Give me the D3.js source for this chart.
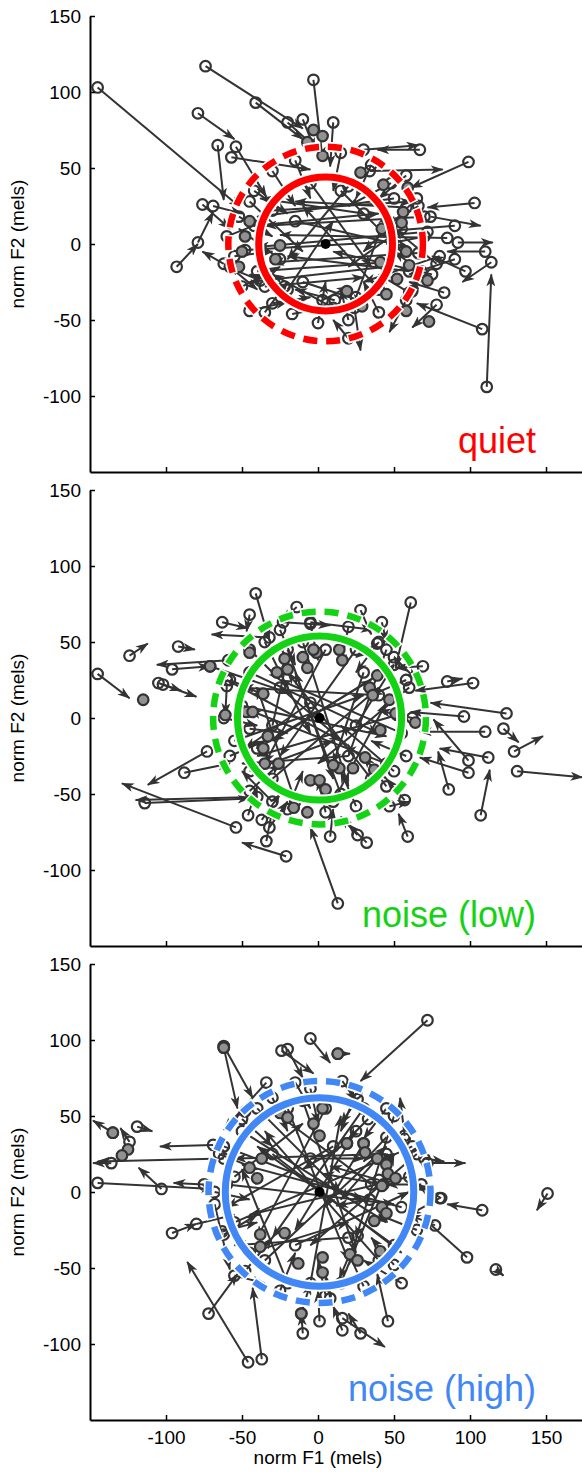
<!DOCTYPE html>
<html>
<head>
<meta charset="utf-8">
<script src="https://cdnjs.cloudflare.com/ajax/libs/d3/7.8.5/d3.min.js"></script>
<style>
  body { margin: 0; background: #fff; }
  svg { display: block; font-family: "Liberation Sans", Arial, sans-serif; }
</style>
</head>
<body>
<div id="app"></div>
<script>
// formant trajectories in mels: [startF1, startF2, endF1, endF2]
const quietArrows = [
  [-145,103,-51,24],[-74,117,-10,76],[-41,93,-10,69],[-79,86,-55,69],[-3,108,3,56],
  [-66,65,-62,29],[-54,64,-34,31],[-57,57,-5,49],[10,80,8,51],[-20,80,0,62],
  [-10,82,-2,62],[30,62,66,65],[67,62,39,62],[99,54,61,37],[34,48,82,49],
  [103,27,72,24],[74,18,107,12],[92,1,115,1],[111,-94,114,-20],[108,-56,65,-39],
  [58,-37,47,-58],[24,-42,28,-70],[20,-62,10,-50],[-93,-15,-79,0],[-62,-13,-76,-5],
  [-79,1,-69,21],[-76,26,-58,10],[-69,25,-50,20],[110,-5,85,-5],[114,-12,95,-25],
  [97,-18,75,-8],[90,-10,60,-20],[78,-13,50,10],[83,-32,60,-25],[78,-40,62,-55],
  [-45,-44,-20,-38],[-30,-39,-5,-35],[-17,-46,5,-42],[-22,-28,-45,-20],[3,-37,20,-28],
  [11,-37,-15,-30],[-38,-24,-60,-15],
  [70,18,-35,12],[72,8,-40,-2],[85,4,-25,6],[66,-6,-30,-12],[60,-18,-20,-8],
  [58,24,-15,28],[50,30,-40,18],[-42,12,40,20],[-48,-4,55,2],[-40,-18,45,-12],
  [-30,22,62,28],[-35,-28,30,-22],[20,38,-20,-10],[-5,40,35,-15],[40,-30,-10,25],
  [25,-35,45,20],[-20,-30,10,15],[55,10,20,-15],[80,-8,30,-25],[65,30,30,-5],
  [-45,28,-10,-5],[45,-15,-45,-25],[30,20,-38,30],[90,12,40,8],[-25,-10,-52,10],
  [10,-42,-30,-20],[15,35,55,-5],[-15,15,60,-2],[75,-20,10,-5],[-10,-25,30,-38],
  [48,40,20,25],[35,52,25,30],[15,60,10,35],[-15,55,-5,30],[-30,48,-15,25],
  [-42,35,-20,20],[-52,18,-30,5],[-55,-8,-30,-5],[-50,-28,-25,-15],[-35,-45,-20,-25],
  [0,-52,5,-25],[20,-50,15,-30],[40,-45,30,-25],[60,-32,40,-20],[68,-18,50,-5],
  [70,5,45,0],[66,25,45,12],[58,45,40,30],[-60,5,-35,15],[-58,-15,-40,-30]
];
const quietGrey = [
  [-3,75],[3,71],[3,58],[-7,67],[28,47],[43,39],[59,37],[56,21],[42,10],[55,14],
  [58,-5],[41,-12],[60,-14],[52,-23],[62,-31],[45,-33],[72,-24],[58,-44],[19,-31],[29,-41],
  [-28,-10],[-25,-1],[73,-51],[-50,-5],[-48,5],[-52,-15],[-45,15]
];
const quietMean = [5, 0];
const quietSd = [44, 64];   // solid ring, dashed ring radius

const lowArrows = [
  [-41,82,-32,51],[-45,68,-47,57],[-63,63,-46,59],[-14,73,-24,64],[-23,63,8,61],
  [-32,53,-70,55],[-92,47,-81,45],[-124,41,-112,49],[-59,38,-106,35],[-96,32,-71,34],
  [-71,34,-18,16],[-145,29,-124,13],[-105,23,-80,14],[-102,22,-90,18],[-60,21,-61,2],
  [61,76,51,33],[28,71,35,55],[-5,63,36,58],[42,63,45,50],[39,49,25,40],
  [69,34,51,33],[85,24,95,26],[102,23,64,18],[124,3,74,10],[96,1,61,4],
  [110,-9,67,-9],[122,-7,132,-16],[129,-22,148,-12],[131,-35,174,-39],[99,-28,76,-1],
  [99,-36,67,-26],[86,-47,79,-22],[107,-64,113,-34],[59,-78,53,-63],[57,-54,45,-40],
  [47,-58,60,-55],[32,-82,20,-70],[26,-77,15,-65],[8,-78,10,-60],[13,-122,-5,-72],
  [-73,-22,-112,-44],[-88,-36,-58,-30],[-114,-56,-45,-53],[-40,-52,-120,-54],[-54,-72,-129,-43],
  [-21,-91,-50,-82],[-34,-81,-30,-60],[-46,-64,-40,-45],[-37,-67,-25,-50],[-32,-72,-20,-55],
  [-45,-7,-20,-10],[112,-26,80,-20],
  [-45,30,40,-10],[-40,-20,35,25],[50,35,-30,-15],[45,-30,-45,5],[-20,45,10,-40],
  [25,45,-25,-25],[-50,8,45,-12],[52,2,-40,-25],[5,45,-35,-30],[-30,-40,40,20],
  [35,-40,-20,30],[55,-10,-25,25],[-55,-15,30,15],[15,-50,-15,30],[-10,50,20,-45],
  [40,15,-50,20],[-45,-35,10,-15],[30,30,10,-30],[-25,20,45,-40],[60,20,0,-30],
  [-60,25,15,-15],[20,-25,-50,-30],[10,-55,45,10],[-35,50,-5,-10],[45,45,20,-25],
  [-15,-55,-40,20],[-5,10,-48,-20],[25,-5,50,35],[-30,-5,-20,40],[50,-35,15,-5],
  [40,50,25,30],[20,60,15,35],[-5,62,0,38],[-25,58,-15,35],[-45,45,-25,25],
  [-58,25,-35,15],[-62,0,-40,-5],[-58,-25,-35,-15],[-45,-48,-25,-30],[-20,-60,-10,-35],
  [5,-62,0,-40],[25,-58,15,-35],[45,-45,30,-25],[58,-25,35,-15],[62,0,40,5],
  [58,25,35,15],[-30,-55,-50,-35],[50,40,65,25]
];
const lowGrey = [
  [-22,39],[-10,40],[-1,43],[-20,32],[-7,33],[-27,30],[-36,16],[-47,4],[-43,4],[-61,2],
  [-115,12],[-71,34],[-45,43],[-33,-12],[-36,-20],[-35,-30],[-26,-30],[-5,-41],[1,-41],[5,-47],
  [-16,-59],[-7,-62],[-3,45],[14,45],[16,38],[39,28],[34,20],[36,15],[47,12],[51,3],
  [64,-3],[41,-8],[31,-26],[23,-33],[14,-33],[10,-31],[37,-34]
];
const lowMean = [1, 0];
const lowSd = [54, 70];

const highArrows = [
  [-62,95,-53,55],[-62,96,-43,62],[-24,93,-3,78],[-20,94,-10,75],[-5,101,8,85],
  [-34,72,-62,41],[-15,72,-5,55],[-119,43,-109,40],[-135,39,-148,47],[-124,33,-130,42],
  [-136,19,-148,19],[-103,2,-118,16],[-62,22,-145,20],[-69,31,-104,30],[-145,6,-69,2],
  [-75,5,-95,6],[72,113,28,73],[13,91,21,91],[16,73,25,60],[26,61,15,45],
  [33,48,20,35],[57,37,54,62],[45,36,30,20],[57,35,62,15],[72,19,97,19],
  [70,22,83,20],[151,-1,144,-12],[19,32,-10,15],[30,32,5,-10],[39,22,15,-5],
  [43,5,3,12],[40,8,8,17],[-5,22,30,22],[34,-5,12,-9],[80,-4,60,-15],
  [108,-12,85,-8],[81,-4,65,5],[77,-22,60,-15],[98,-43,69,-17],[117,-51,122,-55],
  [46,-85,39,-54],[28,-93,20,-80],[16,-91,10,-75],[16,-83,44,-102],[1,-85,0,-65],
  [8,-70,5,-55],[26,-29,14,-57],[-96,-27,-80,-21],[-80,-21,-55,-15],[-72,-80,-53,-54],
  [-46,-112,-86,-46],[-37,-110,-43,-63],[-68,-8,-58,-51],[-10,-93,-11,-80],[-11,-80,-5,-60],
  [-63,-26,-40,-20],
  [-50,40,45,-20],[-55,-20,50,25],[60,10,-45,-15],[50,-35,-40,30],[-20,55,20,-45],
  [30,55,-30,-30],[-60,5,50,-8],[55,-10,-50,18],[5,55,-40,-30],[-35,-45,45,30],
  [40,-45,-35,40],[-5,-60,15,50],[-10,60,25,-40],[45,25,-55,22],[-45,-40,20,-20],
  [25,40,-15,-25],[-30,25,55,-40],[65,25,-5,-35],[-62,30,30,-5],[20,-30,-55,-35],
  [15,-60,50,25],[-40,55,15,0],[50,50,25,-30],[-20,-60,-50,15],[-55,10,-10,45],
  [35,5,-25,50],[-15,-35,60,0],[10,30,-60,-10],
  [45,55,30,35],[25,65,15,40],[-5,68,0,45],[-30,62,-20,40],[-50,48,-30,30],
  [-65,25,-40,15],[-68,0,-45,-5],[-62,-28,-40,-15],[-48,-52,-30,-30],[-25,-65,-15,-40],
  [5,-68,0,-45],[30,-62,20,-40],[50,-48,35,-30],[65,-25,40,-15],[68,5,45,5],
  [62,30,40,20],[55,-60,30,-45],[-55,-55,-35,-60]
];
const highGrey = [
  [-62,95],[-135,39],[-125,28],[-129,24],[13,91],[-11,-80],[-38,-28],[-22,-27],[-38,-36],[-13,-47],
  [42,-10],[45,-14],[37,-19],[41,-39],[21,-41],[26,-45],[3,-43],[3,-53],[19,32],[30,32],
  [31,26],[39,22],[45,18],[46,12],[51,9],[42,4],[-25,52],[-20,49],[-3,45],[3,55],
  [1,37],[-48,53],[-37,22],[-45,16],[-40,9]
];
const highMean = [1, 0];
const highSd = [62, 73];

const conditions = ["quiet", "noise (low)", "noise (high)"];
const condColors = ["#ff0000", "#14d214", "#4187f5"];
const xTicks = [-100, -50, 0, 50, 100, 150];
const yTicks = [-100, -50, 0, 50, 100, 150];

const panels = [
  { arrows: quietArrows, grey: quietGrey, mean: quietMean, sd: quietSd },
  { arrows: lowArrows,   grey: lowGrey,   mean: lowMean,   sd: lowSd },
  { arrows: highArrows,  grey: highGrey,  mean: highMean,  sd: highSd }
];

const W = 582, H = 1472;
const panelTop = [16, 490, 964];
const panelH = 456;
const ink = "#333333";

const svg = d3.select("#app").append("svg")
  .attr("width", W).attr("height", H);

svg.append("defs").append("marker")
  .attr("id", "head")
  .attr("viewBox", "0 0 13 9")
  .attr("refX", 12).attr("refY", 4.5)
  .attr("markerWidth", 13).attr("markerHeight", 9)
  .attr("markerUnits", "userSpaceOnUse")
  .attr("orient", "auto")
  .append("path")
    .attr("d", "M0,0 L13,4.5 L0,9 L3.5,4.5 Z")
    .attr("fill", ink);

const x = d3.scaleLinear().domain([-150, 174]).range([90, 582.5]);

panels.forEach((p, i) => {
  const y = d3.scaleLinear().domain([-150, 150]).range([panelTop[i] + panelH, panelTop[i]]);
  const g = svg.append("g");
  const col = condColors[i];

  // trajectories
  g.append("g").selectAll("line")
    .data(p.arrows).enter()
    .append("line")
      .attr("x1", d => x(d[0])).attr("y1", d => y(d[1]))
      .attr("x2", d => x(d[2])).attr("y2", d => y(d[3]))
      .attr("stroke", ink).attr("stroke-width", 2)
      .attr("marker-end", "url(#head)");

  // onset points
  g.append("g").selectAll("circle")
    .data(p.arrows).enter()
    .append("circle")
      .attr("cx", d => x(d[0])).attr("cy", d => y(d[1]))
      .attr("r", 5.3)
      .attr("fill", "none").attr("stroke", ink).attr("stroke-width", 2.2);

  g.append("g").selectAll("circle")
    .data(p.grey).enter()
    .append("circle")
      .attr("cx", d => x(d[0])).attr("cy", d => y(d[1]))
      .attr("r", 5.3)
      .attr("fill", "#919191").attr("stroke", ink).attr("stroke-width", 2.2);

  // rings: solid = inner, dashed = outer
  const cx = x(p.mean[0]), cy = y(p.mean[1]);
  const rIn = x(p.sd[0]) - x(0), rOut = x(p.sd[1]) - x(0);

  g.append("circle").attr("cx", cx).attr("cy", cy).attr("r", rOut)
    .attr("fill", "none").attr("stroke", "#fff").attr("stroke-width", 10)
    .attr("stroke-dasharray", "17 6").attr("stroke-dashoffset", 1.5);
  g.append("circle").attr("cx", cx).attr("cy", cy).attr("r", rOut)
    .attr("fill", "none").attr("stroke", col).attr("stroke-width", 6.5)
    .attr("stroke-dasharray", "14 9");

  g.append("circle").attr("cx", cx).attr("cy", cy).attr("r", rIn)
    .attr("fill", "none").attr("stroke", "#fff").attr("stroke-width", 11);
  g.append("circle").attr("cx", cx).attr("cy", cy).attr("r", rIn)
    .attr("fill", "none").attr("stroke", col).attr("stroke-width", 7);

  g.append("circle").attr("cx", cx).attr("cy", cy).attr("r", 5).attr("fill", "#000");

  // axes
  const yAx = g.append("g")
    .attr("transform", "translate(" + x(-150) + ",0)")
    .call(d3.axisLeft(y).tickValues(yTicks).tickSize(-5).tickSizeOuter(0)
      .tickPadding(9).tickFormat(d => String(d)));
  const xAx = g.append("g")
    .attr("transform", "translate(0," + y(-150) + ")")
    .call(d3.axisBottom(x).tickValues(xTicks).tickSize(-5).tickSizeOuter(0)
      .tickPadding(11).tickFormat(i === 2 ? (d => String(d)) : ""));
  [yAx, xAx].forEach(a => {
    a.select(".domain").attr("stroke", "#000").attr("stroke-width", 2);
    a.selectAll(".tick line").attr("stroke", "#000").attr("stroke-width", 1.5);
    a.selectAll("text").attr("font-size", "19px").attr("fill", "#000")
      .attr("font-family", "Liberation Sans, Arial, sans-serif");
  });

  g.append("text")
    .attr("transform", "translate(24," + y(0) + ") rotate(-90)")
    .attr("text-anchor", "middle")
    .attr("font-size", "19px")
    .text("norm F2 (mels)");

  g.append("text")
    .attr("x", 536).attr("y", y(-150) - 19)
    .attr("text-anchor", "end")
    .attr("font-size", "36px")
    .attr("fill", col)
    .text(conditions[i]);
});

svg.append("text")
  .attr("x", x(0)).attr("y", 1464)
  .attr("text-anchor", "middle")
  .attr("font-size", "19px")
  .text("norm F1 (mels)");
</script>
</body>
</html>
